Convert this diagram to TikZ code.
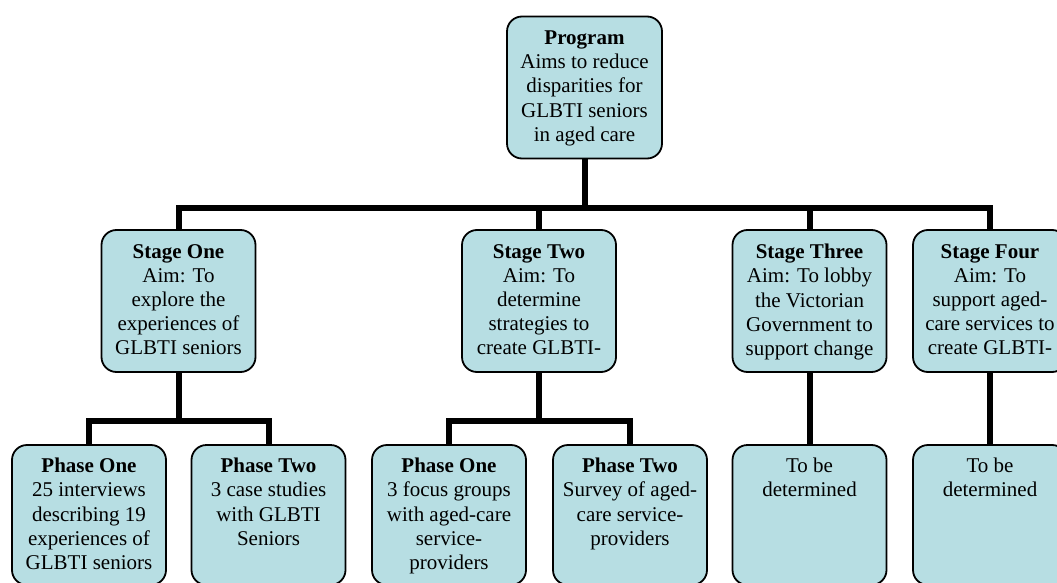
\documentclass[tikz,border=0pt]{standalone}
\usepackage{fontspec}
\setmainfont{Liberation Serif}
\definecolor{boxfill}{RGB}{183,222,227}
\begin{document}
\begin{tikzpicture}[x=1pt,y=-1pt,
  box/.style={draw=black, line width=1.8pt, fill=boxfill, rounded corners=15pt,
    minimum width=154pt, inner sep=0pt, outer sep=0pt},
  txt/.style={align=center, inner sep=0pt, anchor=north,
    font=\fontsize{21}{24.2}\selectfont},
  conn/.style={line width=6pt, line join=miter, draw=black}]
\useasboundingbox (0,0) rectangle (1057,583);

% top
\node[box, minimum width=155pt, minimum height=142pt] (prog) at (584.5,87.5) {};
% stages
\node[box, minimum height=142pt] (s1) at (178.5,301) {};
\node[box, minimum height=142pt] (s2) at (539,301) {};
\node[box, minimum height=142pt] (s3) at (809.5,301) {};
\node[box, minimum height=142pt] (s4) at (990,301) {};
% phases
\node[box, minimum height=140pt] (p11) at (89,515) {};
\node[box, minimum height=140pt] (p12) at (268.5,515) {};
\node[box, minimum height=140pt] (p21) at (449,515) {};
\node[box, minimum height=140pt] (p22) at (630,515) {};
\node[box, minimum height=140pt] (t3) at (809.5,515) {};
\node[box, minimum height=140pt] (t4) at (990,515) {};

% texts
\node[txt] (progt) at ([yshift=-14pt]prog.north) {\textbf{Program}\\Aims to reduce\\disparities for\\GLBTI seniors\\in aged care};
\node[txt] (s1t) at ([yshift=-14pt]s1.north) {\textbf{Stage One}\\Aim: To\\explore the\\experiences of\\GLBTI seniors};
\node[txt] (s2t) at ([yshift=-14pt]s2.north) {\textbf{Stage Two}\\Aim: To\\determine\\strategies to\\create GLBTI-};
\node[txt] (s3t) at ([yshift=-14pt]s3.north) {\textbf{Stage Three}\\Aim: To lobby\\the Victorian\\Government to\\support change};
\node[txt] (s4t) at ([yshift=-14pt]s4.north) {\textbf{Stage Four}\\Aim: To\\support aged-\\care services to\\create GLBTI-};
\node[txt] (p11t) at ([yshift=-13pt]p11.north) {\textbf{Phase One}\\25 interviews\\describing 19\\experiences of\\GLBTI seniors};
\node[txt] (p12t) at ([yshift=-13pt]p12.north) {\textbf{Phase Two}\\3 case studies\\with GLBTI\\Seniors};
\node[txt] (p21t) at ([yshift=-13pt]p21.north) {\textbf{Phase One}\\3 focus groups\\with aged-care\\service-\\providers};
\node[txt] (p22t) at ([yshift=-13pt]p22.north) {\textbf{Phase Two}\\Survey of aged-\\care service-\\providers};
\node[txt] (t3t) at ([yshift=-13pt]t3.north) {To be\\determined};
\node[txt] (t4t) at ([yshift=-13pt]t4.north) {To be\\determined};

% connectors
\coordinate (bar) at (0,207.5);
\coordinate (sub) at (0,421);
\draw[conn] (s1.north) |- (s4.north |- bar) -- (s4.north);
\draw[conn] (prog.south) -- (prog.south |- bar);
\draw[conn] (s2.north) -- (s2.north |- bar);
\draw[conn] (s3.north) -- (s3.north |- bar);
\draw[conn] (p11.north) |- (p12.north |- sub) -- (p12.north);
\draw[conn] (s1.south) -- (s1.south |- sub);
\draw[conn] (p21.north) |- (p22.north |- sub) -- (p22.north);
\draw[conn] (s2.south) -- (s2.south |- sub);
\draw[conn] (s3.south) -- (t3.north);
\draw[conn] (s4.south) -- (t4.north);
\end{tikzpicture}
\end{document}
